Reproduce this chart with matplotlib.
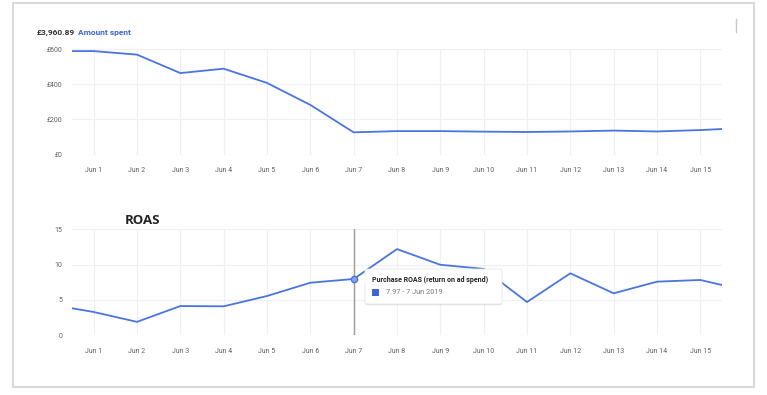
import matplotlib.pyplot as plt
from matplotlib.patches import FancyBboxPatch, Rectangle, Polygon
import numpy as np

# days shown, with one extra day each side so the line runs to the edges
days = list(range(0, 17))
tick_days = list(range(1, 16))
tick_labels = ["Jun %d" % d for d in tick_days]

# amount spent (GBP), May 31 .. Jun 16
spend = [588, 588, 568, 463, 488, 407, 282, 126, 133, 133, 130, 128, 131, 136, 131, 139, 151]
spend_ticks = [0, 200, 400, 600]
spend_labels = ["£0", "£200", "£400", "£600"]

# purchase ROAS, May 31 .. Jun 16
roas = [4.35, 3.3, 1.9, 4.14, 4.1, 5.56, 7.44, 7.97, 12.2, 9.98, 9.4, 4.71, 8.77, 5.94, 7.59, 7.83, 6.4]
roas_ticks = [0, 5, 10, 15]

line_col = "#4a74e0"
grid_col = "#f0f0f0"
tick_col = "#606060"
font = "Roboto"

fig = plt.figure(figsize=(7.67, 3.95), dpi=100)
fig.patch.set_facecolor("white")

# outer card border
fig.add_artist(Rectangle((13/767, 1-386.5/395), (754-13)/767, (386.5-3)/395,
                         transform=fig.transFigure, fill=False, ec="#d9d9d9", lw=1.5))
fig.add_artist(plt.Line2D([736/767, 736/767], [1-19/395, 1-32/395],
                          transform=fig.transFigure, color="#c8c8c8", lw=1))

def style_axes(ax, ys, yt, yl, ylim):
    ax.plot(days, ys, color=line_col, lw=1.3, zorder=3)
    ax.set_xlim(0.5, 15.5)
    ax.set_ylim(*ylim)
    ax.set_xticks(tick_days)
    ax.set_xticklabels(tick_labels)
    ax.set_yticks(yt)
    ax.set_yticklabels(yl)
    for s in ax.spines.values():
        s.set_visible(False)
    ax.grid(True, color=grid_col, lw=0.9)
    ax.set_axisbelow(True)
    ax.tick_params(length=0, labelsize=5, labelcolor=tick_col, pad=9)
    ax.tick_params(axis="y", pad=7)
    for t in ax.get_xticklabels() + ax.get_yticklabels():
        t.set_fontfamily(font)

ax1 = fig.add_axes([72/767, 1-154.5/395, 650/767, 105.5/395])
style_axes(ax1, spend, spend_ticks, spend_labels, (0, 600))

ax2 = fig.add_axes([72/767, 1-335.3/395, 650/767, 106/395])
style_axes(ax2, roas, roas_ticks, [str(v) for v in roas_ticks], (0, 15))

# headings
fig.text(37/767, 1-32/395, "£3,960.89", fontsize=6, fontweight="bold",
         color="#333333", family=font, va="center")
fig.text(78/767, 1-32/395, "Amount spent", fontsize=6, fontweight="bold",
         color="#3d63d8", family=font, va="center")
fig.text(125/767, 1-220/395, "ROAS", fontsize=9.5, fontweight="bold",
         color="#222222", family="Open Sans", va="center")

# hover line and marker on Jun 7
ax2.axvline(7, color="#9a9a9a", lw=1, zorder=2)
ax2.plot([7], [roas[7]], "o", ms=4.5, mfc="#8aa4ee", mec=line_col, mew=1, zorder=4)

# tooltip
x0, x1 = 365/767, 502/767
y0, y1 = 1-304/395, 1-269/395
for off, a in [(0.004, 0.05), (0.002, 0.08)]:
    fig.add_artist(FancyBboxPatch((x0, y0-off), x1-x0, y1-y0,
                                  boxstyle="round,pad=0,rounding_size=0.004",
                                  transform=fig.transFigure, fc="black", ec="none",
                                  alpha=a, zorder=9))
fig.add_artist(FancyBboxPatch((x0, y0), x1-x0, y1-y0,
                              boxstyle="round,pad=0,rounding_size=0.004",
                              transform=fig.transFigure, fc="white", ec="#e6e6e6",
                              lw=0.6, zorder=10))
fig.add_artist(Polygon([[x0+0.0005, 1-275/395], [x0-5/767, 1-279.5/395], [x0+0.0005, 1-284/395]],
                       closed=True, transform=fig.transFigure, fc="white", ec="none", zorder=11))
fig.text(372/767, 1-280.5/395, "Purchase ROAS (return on ad spend)", fontsize=5.05,
         fontweight="bold", color="#222222", family=font, va="center", zorder=12)
fig.add_artist(Rectangle((372/767, 1-295.5/395), 6.5/767, 6.5/395, transform=fig.transFigure,
                         fc="#3d63d8", ec="none", zorder=12))
fig.text(386/767, 1-292.5/395, "7.97 - 7 Jun 2019", fontsize=5.3, color="#777777",
         family=font, va="center", zorder=12)

fig.savefig("out.png", dpi=100)
